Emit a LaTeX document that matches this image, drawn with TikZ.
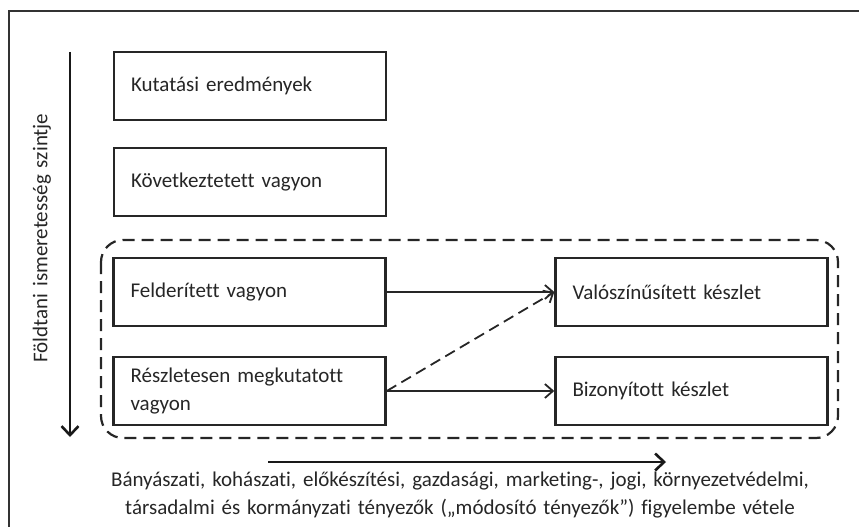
\documentclass[tikz,border=0pt]{standalone}
\usepackage{fontspec}
\setmainfont[Ligatures={NoCommon}, WordSpace={1.45}]{Carlito}
\usetikzlibrary{arrows.meta}
\begin{document}
\begin{tikzpicture}[x=1pt,y=-1pt,
  every node/.style={font=\fontsize{21}{28}\selectfont, text=black!85},
  box/.style={draw=black!85, line width=2.5pt, minimum width=272pt, minimum height=68pt,
    text width=238pt, align=left, inner xsep=17pt, inner ysep=0pt},
  conn/.style={line width=1.8pt, draw=black!85, -{Straight Barb[length=8pt,width=14pt,line width=1.8pt]}},
  axis/.style={line width=2.6pt, draw=black!90, -{Straight Barb[length=9pt,width=17pt,line width=2.6pt]}},
  group/.style={draw=black!85, line width=2.2pt, dash pattern=on 12pt off 7pt, rounded corners=22pt}
]
\useasboundingbox (0,0) rectangle (859,527);
% frame (top and left only visible)
\draw[line width=2pt, black!80] (859,11) -- (9,11) -- (9,527);

% group
\draw[group] (101,240) rectangle (838,438);

% boxes
\node[box] (k) at (250,86) {Kutatási eredmények};
\node[box] (kv) at (250,182) {Következtetett vagyon};
\node[box] (f) at (249.5,292) {Felderített vagyon};
\node[box] (r) at (249.5,391) {Részletesen megkutatott\\vagyon};
\node[box] (v) at (691.5,292) {Valószínűsített készlet};
\node[box] (b) at (691.5,391) {Bizonyított készlet};

% connectors
\draw[conn] (f.east) -- (v.west);
\draw[conn] (r.east) -- (b.west);
\draw[conn, dash pattern=on 11pt off 6pt] (r.east) -- (v.west);

% vertical axis
\coordinate (vt) at (70,52);
\coordinate (vb) at (70,437);
\draw[axis] (vt) -- (vb);
\node[rotate=90] (vl) at (42,238) {Földtani ismeretesség szintje};

% horizontal axis
\coordinate (hl) at (268,462);
\coordinate (hr) at (666,462);
\draw[axis] (hl) -- (hr);
\node[align=center] (ht) at (460,495) {Bányászati, kohászati, előkészítési, gazdasági, marketing-, jogi, környezetvédelmi,\\társadalmi és kormányzati tényezők („módosító tényezők”) figyelembe vétele};
\end{tikzpicture}
\end{document}
